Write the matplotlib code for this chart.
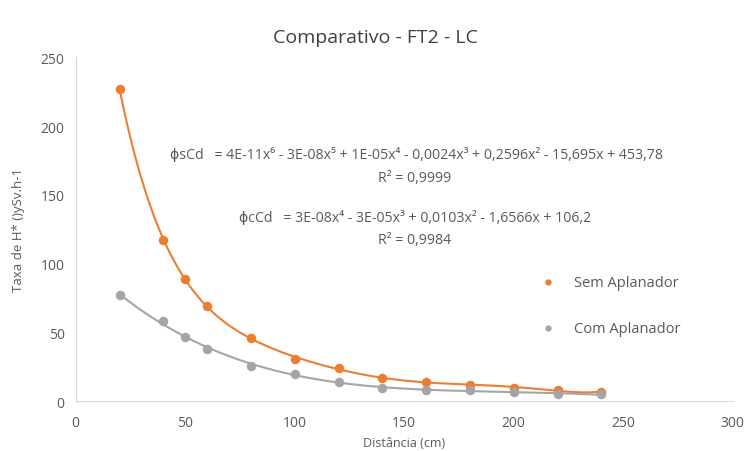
import numpy as np
import matplotlib.pyplot as plt

plt.rcParams['font.family'] = ['Open Sans', 'DejaVu Sans']

# Data
dist = [20, 40, 50, 60, 80, 100, 120, 140, 160, 180, 200, 220, 240]
sem_aplanador = [227, 117, 89, 69, 46, 31, 24, 17, 14, 12, 10, 8, 7]
com_aplanador = [77, 58, 47, 38, 26, 20, 14, 10, 8, 8, 7, 5, 5]

orange = '#ED7D31'
gray = '#A5A5A5'
txt = '#595959'

fig = plt.figure(figsize=(7.5, 4.52), dpi=100)
ax = fig.add_axes([0.101, 0.11, 0.876, 0.761])

# polynomial trendlines (as in the original spreadsheet)
xs = np.linspace(min(dist), max(dist), 300)
p_sem = np.polyfit(dist, sem_aplanador, 6)
p_com = np.polyfit(dist, com_aplanador, 4)
ax.plot(xs, np.polyval(p_sem, xs), color=orange, lw=1.5, zorder=2)
ax.plot(xs, np.polyval(p_com, xs), color=gray, lw=1.5, zorder=2)

ax.scatter(dist, sem_aplanador, s=34, color=orange, zorder=3, label='Sem Aplanador')
ax.scatter(dist, com_aplanador, s=34, color=gray, zorder=3, label='Com Aplanador')

ax.set_xlim(0, 300)
ax.set_ylim(0, 250)
ax.set_xticks(range(0, 301, 50))
ax.set_yticks(range(0, 251, 50))
ax.tick_params(length=0, labelsize=10, colors=txt)
ax.tick_params(axis='x', pad=10)
ax.tick_params(axis='y', pad=8)
for s in ['top', 'right']:
    ax.spines[s].set_visible(False)
for s in ['left', 'bottom']:
    ax.spines[s].set_color('#D9D9D9')

ax.set_xlabel('Distância (cm)', fontsize=9, color=txt, labelpad=4)
ax.set_ylabel('Taxa de H* ()ySv.h-1', fontsize=9.5, color=txt, labelpad=11)
fig.suptitle('Comparativo - FT2 - LC', fontsize=14, color='#404040', y=0.935)

eq_kw = dict(ha='center', va='center', fontsize=10.2, color=txt,
             family=['Open Sans', 'DejaVu Sans'])
fig.text(0.555, 0.655, 'ϕsCd   = 4E-11x⁶ - 3E-08x⁵ + 1E-05x⁴ - 0,0024x³ + 0,2596x² - 15,695x + 453,78', **eq_kw)
fig.text(0.553, 0.604, 'R² = 0,9999', **eq_kw)
fig.text(0.553, 0.517, 'ϕcCd   = 3E-08x⁴ - 3E-05x³ + 0,0103x² - 1,6566x + 106,2', **eq_kw)
fig.text(0.553, 0.467, 'R² = 0,9984', **eq_kw)

leg = ax.legend(loc='upper left', bbox_to_anchor=(0.676, 0.405), frameon=False,
                fontsize=10.5, labelspacing=2.1, handletextpad=0.8, markerscale=0.6)
for t in leg.get_texts():
    t.set_color(txt)

fig.savefig('out.png', dpi=100, facecolor='white')
